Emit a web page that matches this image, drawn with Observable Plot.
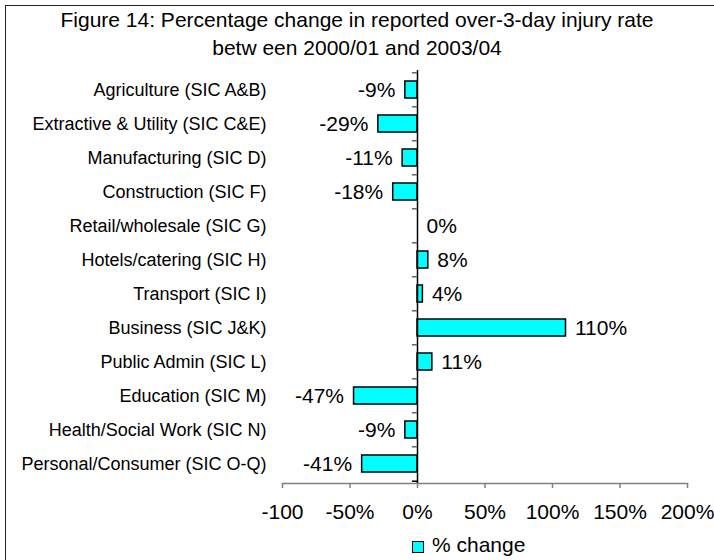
<!DOCTYPE html>
<html>
<head>
<meta charset="utf-8">
<script src="https://cdn.jsdelivr.net/npm/d3@7"></script>
<script src="https://cdn.jsdelivr.net/npm/@observablehq/plot@0.6"></script>
<style>
  html, body { margin: 0; padding: 0; background: #fff; }
  body { width: 714px; height: 560px; overflow: hidden; position: relative; font-family: "Liberation Sans", Arial, sans-serif; }
  #border { position: absolute; left: 5px; top: 5px; width: 720px; height: 570px; border-top: 1.5px solid #222; border-left: 1.5px solid #222; }
  #title { position: absolute; left: 0; top: 6px; width: 714px; text-align: center; font-size: 21px; line-height: 28px; color: #000; }
  #chart { position: absolute; left: 0; top: 62px; }
  #legend { position: absolute; left: 412px; top: 534px; height: 21px; font-size: 21px; line-height: 21px; color: #000; white-space: nowrap; }
  #legend .sw { display: inline-block; width: 10px; height: 10px; background: #00FFFF; border: 1.5px solid #000; vertical-align: -1px; margin-right: 8px; }
</style>
</head>
<body>
<div id="border"></div>
<div id="title">Figure 14: Percentage change in reported over-3-day injury rate<br>betw een 2000/01 and 2003/04</div>
<div id="chart"></div>
<div id="legend"><span class="sw"></span>% change</div>
<script>
const categories = [
  "Agriculture (SIC A&B)",
  "Extractive & Utility (SIC C&E)",
  "Manufacturing (SIC D)",
  "Construction (SIC F)",
  "Retail/wholesale (SIC G)",
  "Hotels/catering (SIC H)",
  "Transport (SIC I)",
  "Business (SIC J&K)",
  "Public Admin (SIC L)",
  "Education (SIC M)",
  "Health/Social Work (SIC N)",
  "Personal/Consumer (SIC O-Q)"
];
const values = [-9, -29, -11, -18, 0, 8, 4, 110, 11, -47, -9, -41];
const tickValues = [-100, -50, 0, 50, 100, 150, 200];
const tickLabels = ["-100", "-50%", "0%", "50%", "100%", "150%", "200%"];
const seriesName = "% change";

const data = categories.map((c, i) => ({cat: c, value: values[i]}));

const W = 714, H = 468, mT = 8, mB = 47, mL = 282, mR = 27;
const step = (H - mT - mB) / categories.length;

const chart = Plot.plot({
  width: W,
  height: H,
  marginTop: mT,
  marginBottom: mB,
  marginLeft: mL,
  marginRight: mR,
  style: {fontFamily: "'Liberation Sans', Arial, sans-serif", color: "#000", background: "transparent"},
  x: {domain: [-100, 200]},
  y: {domain: categories, paddingInner: 0.5, paddingOuter: 0.25},
  marks: [
    Plot.frame({anchor: "bottom", stroke: "#808080", strokeWidth: 1.5}),
    Plot.axisX({ticks: tickValues, tickSize: 5, stroke: "#808080", strokeWidth: 1.5, tickPadding: 16, fontSize: 21, fill: "#000",
      tickFormat: d => tickLabels[tickValues.indexOf(d)], label: null}),
    Plot.axisY({tickSize: 0, tickPadding: 16, fontSize: 18, fill: "#000", label: null}),
    Plot.barX(data, {x: "value", y: "cat", fill: "#00FFFF", stroke: "#000", strokeWidth: 1.5}),
    Plot.ruleX([0], {stroke: "#000", strokeWidth: 1.5}),
    Plot.ruleY(categories, {y: d => d, x1: 0, x2: -3.8, stroke: "#666", strokeWidth: 1.5, dy: -step / 2}),
    Plot.ruleY(categories.slice(-1), {y: d => d, x1: 0, x2: -3.8, stroke: "#000", strokeWidth: 1.5, dy: step / 2}),
    Plot.text(data.filter(d => d.value < 0), {x: "value", y: "cat", text: d => d.value + "%", textAnchor: "end", dx: -10, fontSize: 21, fill: "#000"}),
    Plot.text(data.filter(d => d.value >= 0), {x: "value", y: "cat", text: d => d.value + "%", textAnchor: "start", dx: 9, fontSize: 21, fill: "#000"})
  ]
});
document.getElementById("chart").appendChild(chart);
</script>
</body>
</html>
